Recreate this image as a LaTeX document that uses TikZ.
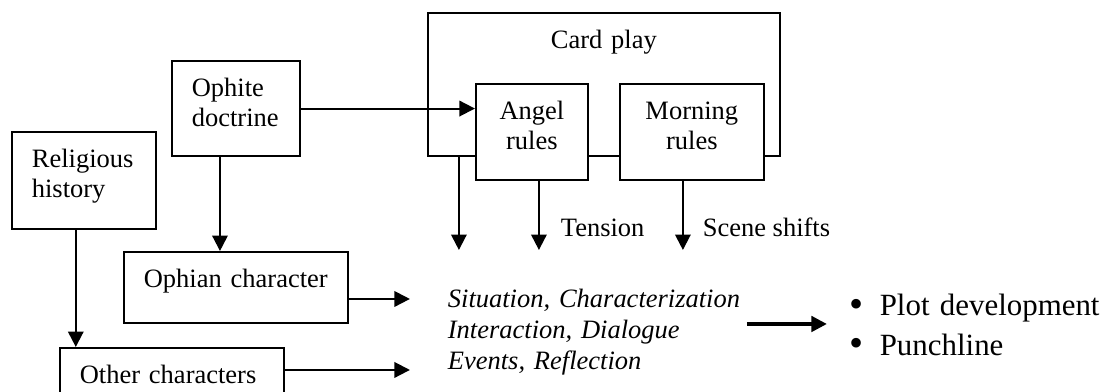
\documentclass[tikz,border=0pt]{standalone}
\usepackage{fontspec}
\setmainfont{Liberation Serif}
\usetikzlibrary{arrows.meta}

\newcommand{\bigdot}{\raisebox{-0.7pt}{\scalebox{1.3}{\textbullet}}\hspace{7.2pt}}

\begin{document}
\begin{tikzpicture}[
    font=\fontsize{12}{14}\selectfont,
    line width=0.9pt,
    >={Triangle[length=7pt,width=7pt]},
    box/.style={draw, fill=white, anchor=north west, align=left,
      inner xsep=9pt, inner ysep=7.5pt, text height=8.4pt},
    cbox/.style={box, align=center},
    lab/.style={inner sep=0pt, anchor=base west},
  ]
  \useasboundingbox (0,0) rectangle (17.64,6.24);
  \clip (0,0) rectangle (17.64,6.24);

  %% ---- card play -----------------------------------------------------
  \node[cbox, text width=141.4pt, text depth=41.4pt] (card) at (6.797,6.049) {Card play};
  \node[cbox, text width=32.7pt, text depth=20.1pt] (angel) at (7.561,4.919) {Angel\\rules};
  \node[cbox, text width=47.2pt, text depth=20.1pt] (morning) at (9.853,4.919) {Morning\\rules};

  %% ---- sources -------------------------------------------------------
  \node[box, text width=40pt, text depth=19.7pt] (oph) at (2.722,5.285) {Ophite\\doctrine};
  \node[box, text width=47.2pt, text depth=20.6pt] (rel) at (0.175,4.155) {Religious\\history};
  \node[box, text width=83.4pt, text depth=8.8pt] (ophian) at (1.958,2.244) {Ophian character};
  \node[box, text width=83.4pt, text depth=8.8pt] (other) at (0.939,0.716) {Other characters};

  %% ---- outcome -------------------------------------------------------
  \node[lab, text width=8cm, align=left, font=\fontsize{12}{14}\selectfont\itshape] (elem)
    at (7.115,1.337) {Situation, Characterization\\Interaction, Dialogue\\Events, Reflection};
  \node[lab] (tension) at (8.914,2.467) {Tension};
  \node[lab] (shifts) at (11.174,2.467) {Scene shifts};
  \node[lab, text width=5cm, align=left, font=\fontsize{14}{17.7}\selectfont] (result)
    at (13.514,1.210) {\bigdot Plot development\\\bigdot Punchline};

  \coordinate (end-card)    at (7.306,2.260);
  \coordinate (end-angel)   at (8.580,2.260);
  \coordinate (end-morning) at (10.872,2.260);
  \coordinate (end-ophian)  at (6.526,1.480);
  \coordinate (end-other)   at (6.526,0.350);
  \coordinate (lead-from)   at (11.891,1.082);
  \coordinate (lead-to)     at (13.164,1.082);

  %% ---- connectors ----------------------------------------------------
  \draw[->] ([xshift=-0.255cm]oph.south) -- ([xshift=-0.255cm]oph.south |- ophian.north);
  \draw[->] ([xshift=-0.13cm]rel.south) -- ([xshift=-0.13cm]rel.south |- other.north);
  \draw[->] (oph.east) -- (oph.east -| angel.west);
  \draw[->] (card.south west -| end-card) -- (end-card);
  \draw[->] (angel.south -| end-angel) -- (end-angel);
  \draw[->] (morning.south -| end-morning) -- (end-morning);
  \draw[->] (ophian.east |- end-ophian) -- (end-ophian);
  \draw[->] (other.east |- end-other) -- (end-other);
  \draw[->, line width=1.5pt] (lead-from) -- (lead-to);
\end{tikzpicture}
\end{document}
